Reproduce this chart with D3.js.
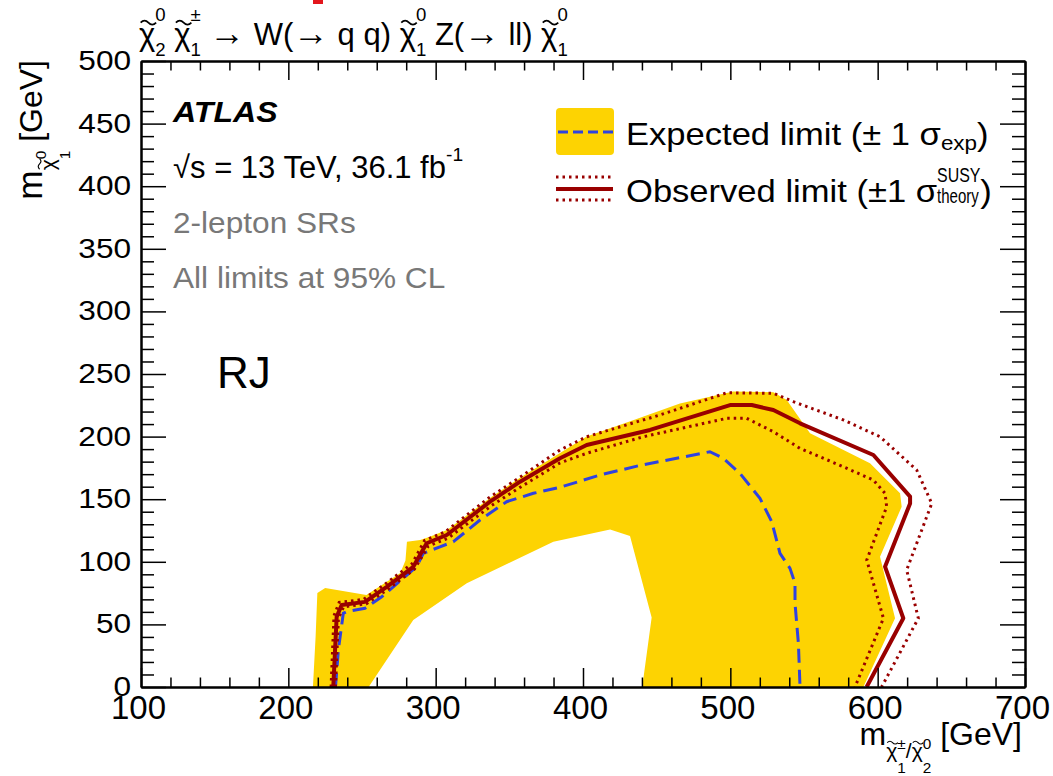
<!DOCTYPE html>
<html>
<head>
<meta charset="utf-8">
<script src="https://cdn.jsdelivr.net/npm/d3@7"></script>
<style>
body { margin: 0; background: #fff; }
svg text { font-family: "Liberation Sans", Arial, Helvetica, sans-serif; white-space: pre; }
</style>
</head>
<body>
<svg id="chart" width="1053" height="776"></svg>
<script>
// axis ticks
var xMajor = [100, 200, 300, 400, 500, 600, 700];
var yMajor = [0, 50, 100, 150, 200, 250, 300, 350, 400, 450, 500];

// contours, [m(chargino/neutralino2), m(lsp)] in GeV
// yellow band: outer edge, then the inner edge (the hole)
var bandOuter = [[216.7,0],[218.5,40],[219.7,75],[225,79],[253,73.5],[276,91],[279.5,101],[280.5,116],
  [289.5,117.5],[296,120],[308,125.5],[338,152],[357,167],[384.4,187],[402.5,200],[434,213],[465.8,226.5],
  [502,236],[529.2,235.5],[538.3,229.2],[554.1,202.6],[594.8,178.7],[615.2,154.7],[616.3,144],
  [601.6,104],[611.8,55],[590.3,0]];
var bandInner = [[254.5,0],[284.8,53.5],[321.1,82.8],[379.9,116],[418.4,125.8],[431.9,120.7],
  [446.6,55.5],[440.2,0]];

var expLimit = [[232,0],[234,30],[237.3,58.9],[239.6,60.2],[252,62.9],[263.4,72.1],[287.1,96.1],
  [291.6,106.8],[302.9,112],[312,116],[330.1,133.4],[348.2,148],[366.3,154.7],[384.4,159.5],
  [411.5,169.3],[438.7,177],[486.1,187.9],[495.2,182.7],[506.5,170.7],[520.1,150.7],[528.1,132],
  [533.7,106.8],[540.5,94.8],[543.9,82.8],[543.9,66.8],[546.2,34.9],[547.3,0]];

var obsLimit = [[230.5,0],[232.8,56],[236.2,65.5],[252,68],[266.8,80],[284.8,96],[293.9,114.8],
  [307.5,121.4],[336.9,148],[357.3,164],[384.4,182.7],[402.5,193.3],[445.5,205.3],[499.8,225.2],
  [514.5,225.2],[529.2,221.2],[547.3,210.6],[597.1,185.3],[622,152],[622,146.6],[605,96.1],
  [617.4,54.9],[592.5,0]];

var obsUp = [[229,0],[231,57],[234.5,67.5],[251,70],[266,82.5],[284,98.5],[292.5,117],[306.5,124],
  [336,151],[356.5,167],[384.4,189.3],[402.5,199.9],[452.3,217.3],[497.6,235],[529.2,234.6],
  [542.8,227.9],[576.7,213.3],[601.6,199.9],[626.5,173.3],[636.7,146.6],[619.7,93.5],[627.6,54.9],
  [602.7,0]];

var obsDown = [[232,0],[234,55],[237.5,64],[253,66.5],[267.5,78],[285.5,94],[295,112.5],[308.5,119],
  [338,145],[358,160],[384.4,179],[402.5,186.7],[440.9,199.9],[497.6,214.6],[511.1,214.6],
  [529.2,203.9],[547.3,190.6],[576.7,175.9],[597.1,165.3],[605,154.7],[606.1,144],[592.6,101.4],
  [603.9,54.9],[584.6,0]];

var gold = "#fdd302", blue = "#2f42e0", darkRed = "#990000", grey = "#787878";

var svg = d3.select("#chart");
var x = d3.scaleLinear().domain([100, 700]).range([141, 1025]);
var y = d3.scaleLinear().domain([0, 500]).range([687, 61]);
var line = d3.line().x(function(d) { return x(d[0]); }).y(function(d) { return y(d[1]); });

svg.append("clipPath").attr("id", "plot").append("rect")
  .attr("x", x(100)).attr("y", y(500))
  .attr("width", x(700) - x(100)).attr("height", y(0) - y(500));

var plot = svg.append("g").attr("clip-path", "url(#plot)");

plot.append("path")
  .attr("d", line(bandOuter.concat(bandInner.slice().reverse())) + "Z")
  .attr("fill", gold);

plot.append("path").attr("d", line(expLimit))
  .attr("fill", "none").attr("stroke", blue).attr("stroke-width", 3)
  .attr("stroke-dasharray", "14,7");

[obsUp, obsDown].forEach(function(c) {
  plot.append("path").attr("d", line(c))
    .attr("fill", "none").attr("stroke", darkRed).attr("stroke-width", 3)
    .attr("stroke-dasharray", "2.5,4");
});

plot.append("path").attr("d", line(obsLimit))
  .attr("fill", "none").attr("stroke", darkRed).attr("stroke-width", 4)
  .attr("stroke-linejoin", "round");

// frame with inward ticks on all four sides
var xMinor = d3.range(100, 701, 20).filter(function(v) { return v % 100; });
var yMinor = d3.range(0, 501, 10).filter(function(v) { return v % 50; });

function ticks(axis, tx, ty, vals, len) {
  var g = svg.append("g").attr("transform", "translate(" + tx + "," + ty + ")")
    .call(axis.tickValues(vals).tickSize(-len).tickSizeOuter(0).tickFormat(""));
  g.select(".domain").attr("stroke-width", 2);
  g.selectAll(".tick line").attr("stroke-width", 1.5);
  return g;
}
ticks(d3.axisBottom(x), 0, y(0), xMinor, 9.5);
ticks(d3.axisTop(x), 0, y(500), xMinor, 9.5);
ticks(d3.axisTop(x), 0, y(500), xMajor, 19);
ticks(d3.axisLeft(y), x(100), 0, yMinor, 13);
ticks(d3.axisRight(y), x(700), 0, yMinor, 13);
ticks(d3.axisRight(y), x(700), 0, yMajor, 25);

var gx = svg.append("g").attr("transform", "translate(0," + y(0) + ")")
  .call(d3.axisBottom(x).tickValues(xMajor).tickSize(-19).tickSizeOuter(0).tickPadding(8.6));
gx.attr("font-size", 33);
gx.select(".domain").attr("stroke-width", 2);
gx.selectAll(".tick line").attr("stroke-width", 1.5);
gx.selectAll(".tick text").attr("fill", "#000").attr("dx", -3);

var gy = svg.append("g").attr("transform", "translate(" + x(100) + ",0)")
  .call(d3.axisLeft(y).tickValues(yMajor).tickSize(-25).tickSizeOuter(0).tickPadding(8.8));
gy.attr("font-size", 28);
gy.select(".domain").attr("stroke-width", 2);
gy.selectAll(".tick line").attr("stroke-width", 1.5);
gy.selectAll(".tick text").attr("fill", "#000").attr("dy", "0.3em").attr("transform", "scale(1.13,1)");

// text with sub/superscripts, pieces laid out one after another
function rich(g, parts, size, fill) {
  var cx = 0, lastX = 0, lastW = 0;
  fill = fill || "#000";
  parts.forEach(function(p) {
    var fs = (p.s || 1) * size;
    var px = p.stack ? lastX : cx;
    var by = (p.dy || 0) * size;
    var sx = p.sx || 1;
    var t = g.append("text").attr("transform", "translate(" + px + "," + by + ") scale(" + sx + ",1)")
      .attr("font-size", fs).attr("fill", fill).text(p.t);
    if (p.b) t.attr("font-weight", "bold");
    if (p.i) t.attr("font-style", "italic");
    var w = t.node().getComputedTextLength() * sx;
    if (p.tilde) {
      // wavy tilde drawn over the chi
      var tw = fs * 0.5, tx0 = px + w / 2 - tw / 2 + fs * 0.04, ty0 = by - fs * 0.72;
      g.append("path")
        .attr("d", "M" + tx0 + "," + ty0 + " q" + (tw / 4) + "," + (-fs * 0.13) + " " + (tw / 2) + ",0" +
          " t" + (tw / 2) + ",0")
        .attr("fill", "none").attr("stroke", fill).attr("stroke-width", Math.max(1, fs * 0.055));
    }
    if (p.stack) {
      cx = Math.max(cx, px + w);
    } else {
      lastX = px; lastW = w; cx = px + w;
    }
  });
  return cx;
}

function chi(sup, sub) {
  return [{t: "χ", tilde: true},
          {t: sup, s: 0.6, dy: -0.78},
          {t: sub, s: 0.6, dy: 0.36, stack: true}];
}

function place(tx, ty, sx) {
  return svg.append("g").attr("transform", "translate(" + tx + "," + ty + ")" + (sx ? " scale(" + sx + ",1)" : ""));
}

// process title
rich(place(139, 45), [].concat(
  chi("0", "2"), [{t: " "}], chi("±", "1"), [{t: " "}, {t: "→", s: 1.15}, {t: " W("}, {t: "→", s: 1.15},
  {t: " q q) "}], chi("0", "1"), [{t: " Z("}, {t: "→", s: 1.15}, {t: " ll) "}], chi("0", "1")), 31);

svg.append("rect").attr("x", 313).attr("y", 0).attr("width", 10).attr("height", 4).attr("fill", "#e3161c");

// labels inside the frame
rich(place(173, 122, 1.07), [{t: "ATLAS", b: true, i: true}], 30);
rich(place(173, 178), [{t: "√s = 13 TeV, 36.1 fb"}, {t: "-1", s: 0.62, dy: -0.55}], 31);
rich(place(173, 233, 1.09), [{t: "2-lepton SRs"}], 29, grey);
rich(place(173, 288, 1.09), [{t: "All limits at 95% CL"}], 29, grey);
svg.append("text").attr("x", 217).attr("y", 388).attr("font-size", 44).text("RJ");

// legend
svg.append("rect").attr("x", 556).attr("y", 108).attr("width", 58).attr("height", 47)
  .attr("rx", 4).attr("fill", gold);
svg.append("line").attr("x1", 558).attr("x2", 614).attr("y1", 132).attr("y2", 132)
  .attr("stroke", blue).attr("stroke-width", 3).attr("stroke-dasharray", "10,5");
svg.append("line").attr("x1", 556).attr("x2", 613).attr("y1", 189).attr("y2", 189)
  .attr("stroke", darkRed).attr("stroke-width", 4);
[177, 200].forEach(function(ly) {
  svg.append("line").attr("x1", 556).attr("x2", 613).attr("y1", ly).attr("y2", ly)
    .attr("stroke", darkRed).attr("stroke-width", 3).attr("stroke-dasharray", "2.5,4");
});
rich(place(626, 145, 1.08), [{t: "Expected limit (± 1 σ"}, {t: "exp", s: 0.65, dy: 0.15}, {t: ")"}], 32);
rich(place(626, 202, 1.08), [{t: "Observed limit (±1 σ"}, {t: "SUSY", s: 0.64, sx: 0.72, dy: -0.64},
  {t: "theory", s: 0.64, sx: 0.68, dy: 0.03, stack: true}, {t: ")"}], 32);

// axis titles, right aligned at the frame ends
function subChi(sup, sub) {
  return [{t: "χ", s: 0.66, dy: 0.4, tilde: true},
          {t: sup, s: 0.48, dy: 0.14}, {t: sub, s: 0.48, dy: 0.88, stack: true}];
}
var xt = place(1022, 745).append("g");
var xw = rich(xt, [].concat([{t: "m"}], subChi("±", "1"), [{t: "/", s: 0.66, dy: 0.4}],
  subChi("0", "2"), [{t: " [GeV]"}]), 32);
xt.attr("transform", "translate(" + (-xw) + ",0)");

var yt = svg.append("g").attr("transform", "translate(42,60) rotate(-90)").append("g");
var yw = rich(yt, [].concat([{t: "m", s: 1.1}], subChi("0", "1"), [{t: " [GeV]"}]), 32);
yt.attr("transform", "translate(" + (-yw) + ",0)");
</script>
</body>
</html>
